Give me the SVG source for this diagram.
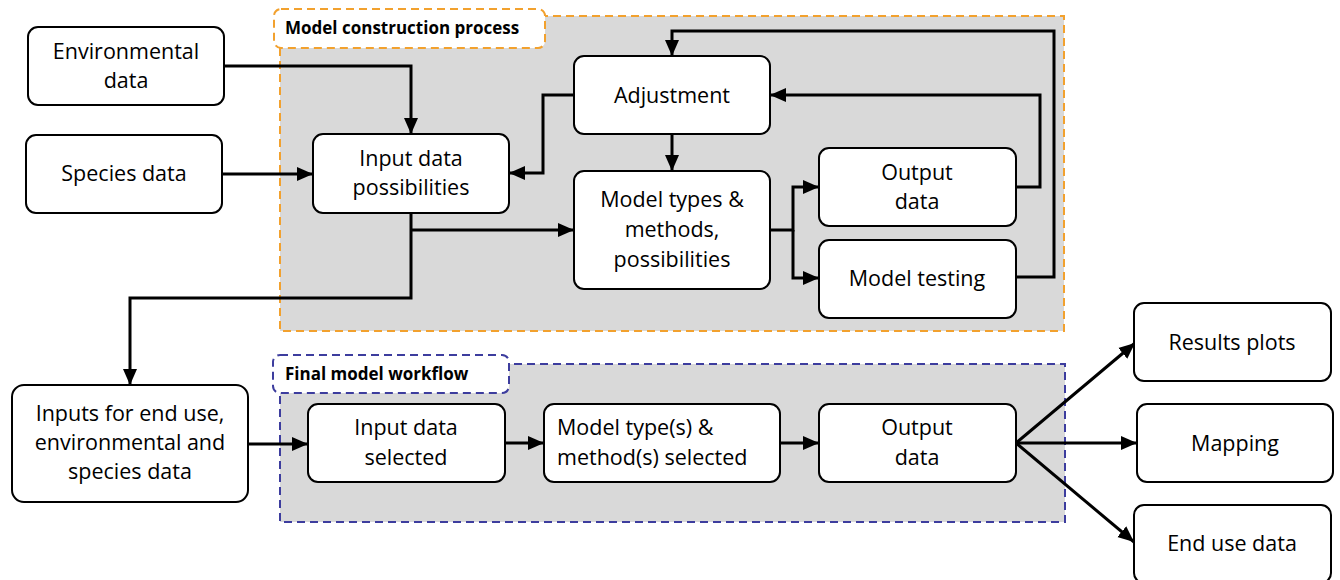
<svg xmlns="http://www.w3.org/2000/svg" width="1340" height="580" viewBox="0 0 1340 580">
  <defs>
    <style>
      .node rect { fill: #ffffff; stroke: #000000; stroke-width: 2; }
      .node text { font-family: "Open Sans", "Liberation Sans", sans-serif; font-size: 21.5px; fill: #000000; text-anchor: middle; }
      .node text.left { text-anchor: start; }
      .panel { fill: #d9d9d9; stroke-width: 2; stroke-dasharray: 8 5; }
      .panel-label { fill: #ffffff; stroke-width: 2; stroke-dasharray: 8 5; }
      .orange { stroke: #f2a12e; }
      .blue { stroke: #3d3d9e; }
      .label { font-family: "Open Sans", "Liberation Sans", sans-serif; font-size: 17px; font-weight: bold; fill: #000000; }
      .conn { fill: none; stroke: #000000; stroke-width: 3; stroke-linejoin: miter; }
    </style>
    <marker id="arrow" markerUnits="userSpaceOnUse" markerWidth="16" markerHeight="16" viewBox="0 0 16 16" refX="16" refY="8" orient="auto">
      <path d="M0,1 L16,8 L0,15 Z" fill="#000000"/>
    </marker>
  </defs>

  <!-- Panels -->
  <g id="panel-construction">
    <rect class="panel orange" x="280" y="16" width="784" height="315"/>
    <rect class="panel-label orange" x="274" y="9" width="271" height="39" rx="7"/>
    <text class="label" x="285" y="34">Model construction process</text>
  </g>
  <g id="panel-final">
    <rect class="panel blue" x="280" y="364" width="785" height="158"/>
    <rect class="panel-label blue" x="273" y="355" width="236" height="38" rx="7"/>
    <text class="label" x="285" y="380">Final model workflow</text>
  </g>

  <!-- Connectors -->
  <g id="connectors">
    <path class="conn" d="M224,66 H411 V134" marker-end="url(#arrow)"/>
    <path class="conn" d="M222,174 H313" marker-end="url(#arrow)"/>
    <path class="conn" d="M574,95 H543 V173 H509" marker-end="url(#arrow)"/>
    <path class="conn" d="M411,213 V298 H130 V385" marker-end="url(#arrow)"/>
    <path class="conn" d="M411,230 H574" marker-end="url(#arrow)"/>
    <path class="conn" d="M672,134 V171" marker-end="url(#arrow)"/>
    <path class="conn" d="M770,230 H793 V187 H819" marker-end="url(#arrow)"/>
    <path class="conn" d="M793,230 V278 H819" marker-end="url(#arrow)"/>
    <path class="conn" d="M1016,187 H1040 V95 H770" marker-end="url(#arrow)"/>
    <path class="conn" d="M1016,277 H1054 V31 H672 V56" marker-end="url(#arrow)"/>
    <path class="conn" d="M248,444 H308" marker-end="url(#arrow)"/>
    <path class="conn" d="M505,443 H544" marker-end="url(#arrow)"/>
    <path class="conn" d="M780,443 H819" marker-end="url(#arrow)"/>
    <path class="conn" d="M1016,443 L1135,343" marker-end="url(#arrow)"/>
    <path class="conn" d="M1016,443 H1137" marker-end="url(#arrow)"/>
    <path class="conn" d="M1016,443 L1134,542" marker-end="url(#arrow)"/>
  </g>

  <!-- Nodes -->
  <g id="environmental-data" class="node">
    <rect x="28" y="27" width="196" height="78" rx="10"/>
    <text x="126" y="59">Environmental</text>
    <text x="126" y="88">data</text>
  </g>
  <g id="species-data" class="node">
    <rect x="26" y="135" width="196" height="78" rx="10"/>
    <text x="124" y="181">Species data</text>
  </g>
  <g id="input-data-possibilities" class="node">
    <rect x="313" y="134" width="196" height="79" rx="10"/>
    <text x="411" y="166">Input data</text>
    <text x="411" y="195">possibilities</text>
  </g>
  <g id="adjustment" class="node">
    <rect x="574" y="56" width="196" height="78" rx="10"/>
    <text x="672" y="103">Adjustment</text>
  </g>
  <g id="model-types" class="node">
    <rect x="574" y="171" width="196" height="118" rx="10"/>
    <text x="672" y="207">Model types &amp;</text>
    <text x="672" y="237">methods,</text>
    <text x="672" y="267">possibilities</text>
  </g>
  <g id="output-data-construction" class="node">
    <rect x="819" y="148" width="197" height="78" rx="10"/>
    <text x="917" y="180">Output</text>
    <text x="917" y="209">data</text>
  </g>
  <g id="model-testing" class="node">
    <rect x="819" y="240" width="197" height="78" rx="10"/>
    <text x="917" y="286">Model testing</text>
  </g>
  <g id="inputs-end-use" class="node">
    <rect x="12" y="385" width="236" height="117" rx="12"/>
    <text x="130" y="421">Inputs for end use,</text>
    <text x="130" y="450">environmental and</text>
    <text x="130" y="479">species data</text>
  </g>
  <g id="input-data-selected" class="node">
    <rect x="308" y="404" width="197" height="78" rx="10"/>
    <text x="406" y="435">Input data</text>
    <text x="406" y="465">selected</text>
  </g>
  <g id="model-types-selected" class="node">
    <rect x="544" y="404" width="236" height="78" rx="10"/>
    <text class="left" x="557" y="435">Model type(s) &amp;</text>
    <text class="left" x="557" y="465">method(s) selected</text>
  </g>
  <g id="output-data-final" class="node">
    <rect x="819" y="404" width="197" height="78" rx="10"/>
    <text x="917" y="435">Output</text>
    <text x="917" y="465">data</text>
  </g>
  <g id="results-plots" class="node">
    <rect x="1134" y="303" width="197" height="78" rx="10"/>
    <text x="1232" y="350">Results plots</text>
  </g>
  <g id="mapping" class="node">
    <rect x="1137" y="404" width="196" height="78" rx="10"/>
    <text x="1235" y="451">Mapping</text>
  </g>
  <g id="end-use-data" class="node">
    <rect x="1134" y="505" width="197" height="78" rx="10"/>
    <text x="1232" y="551">End use data</text>
  </g>
</svg>
